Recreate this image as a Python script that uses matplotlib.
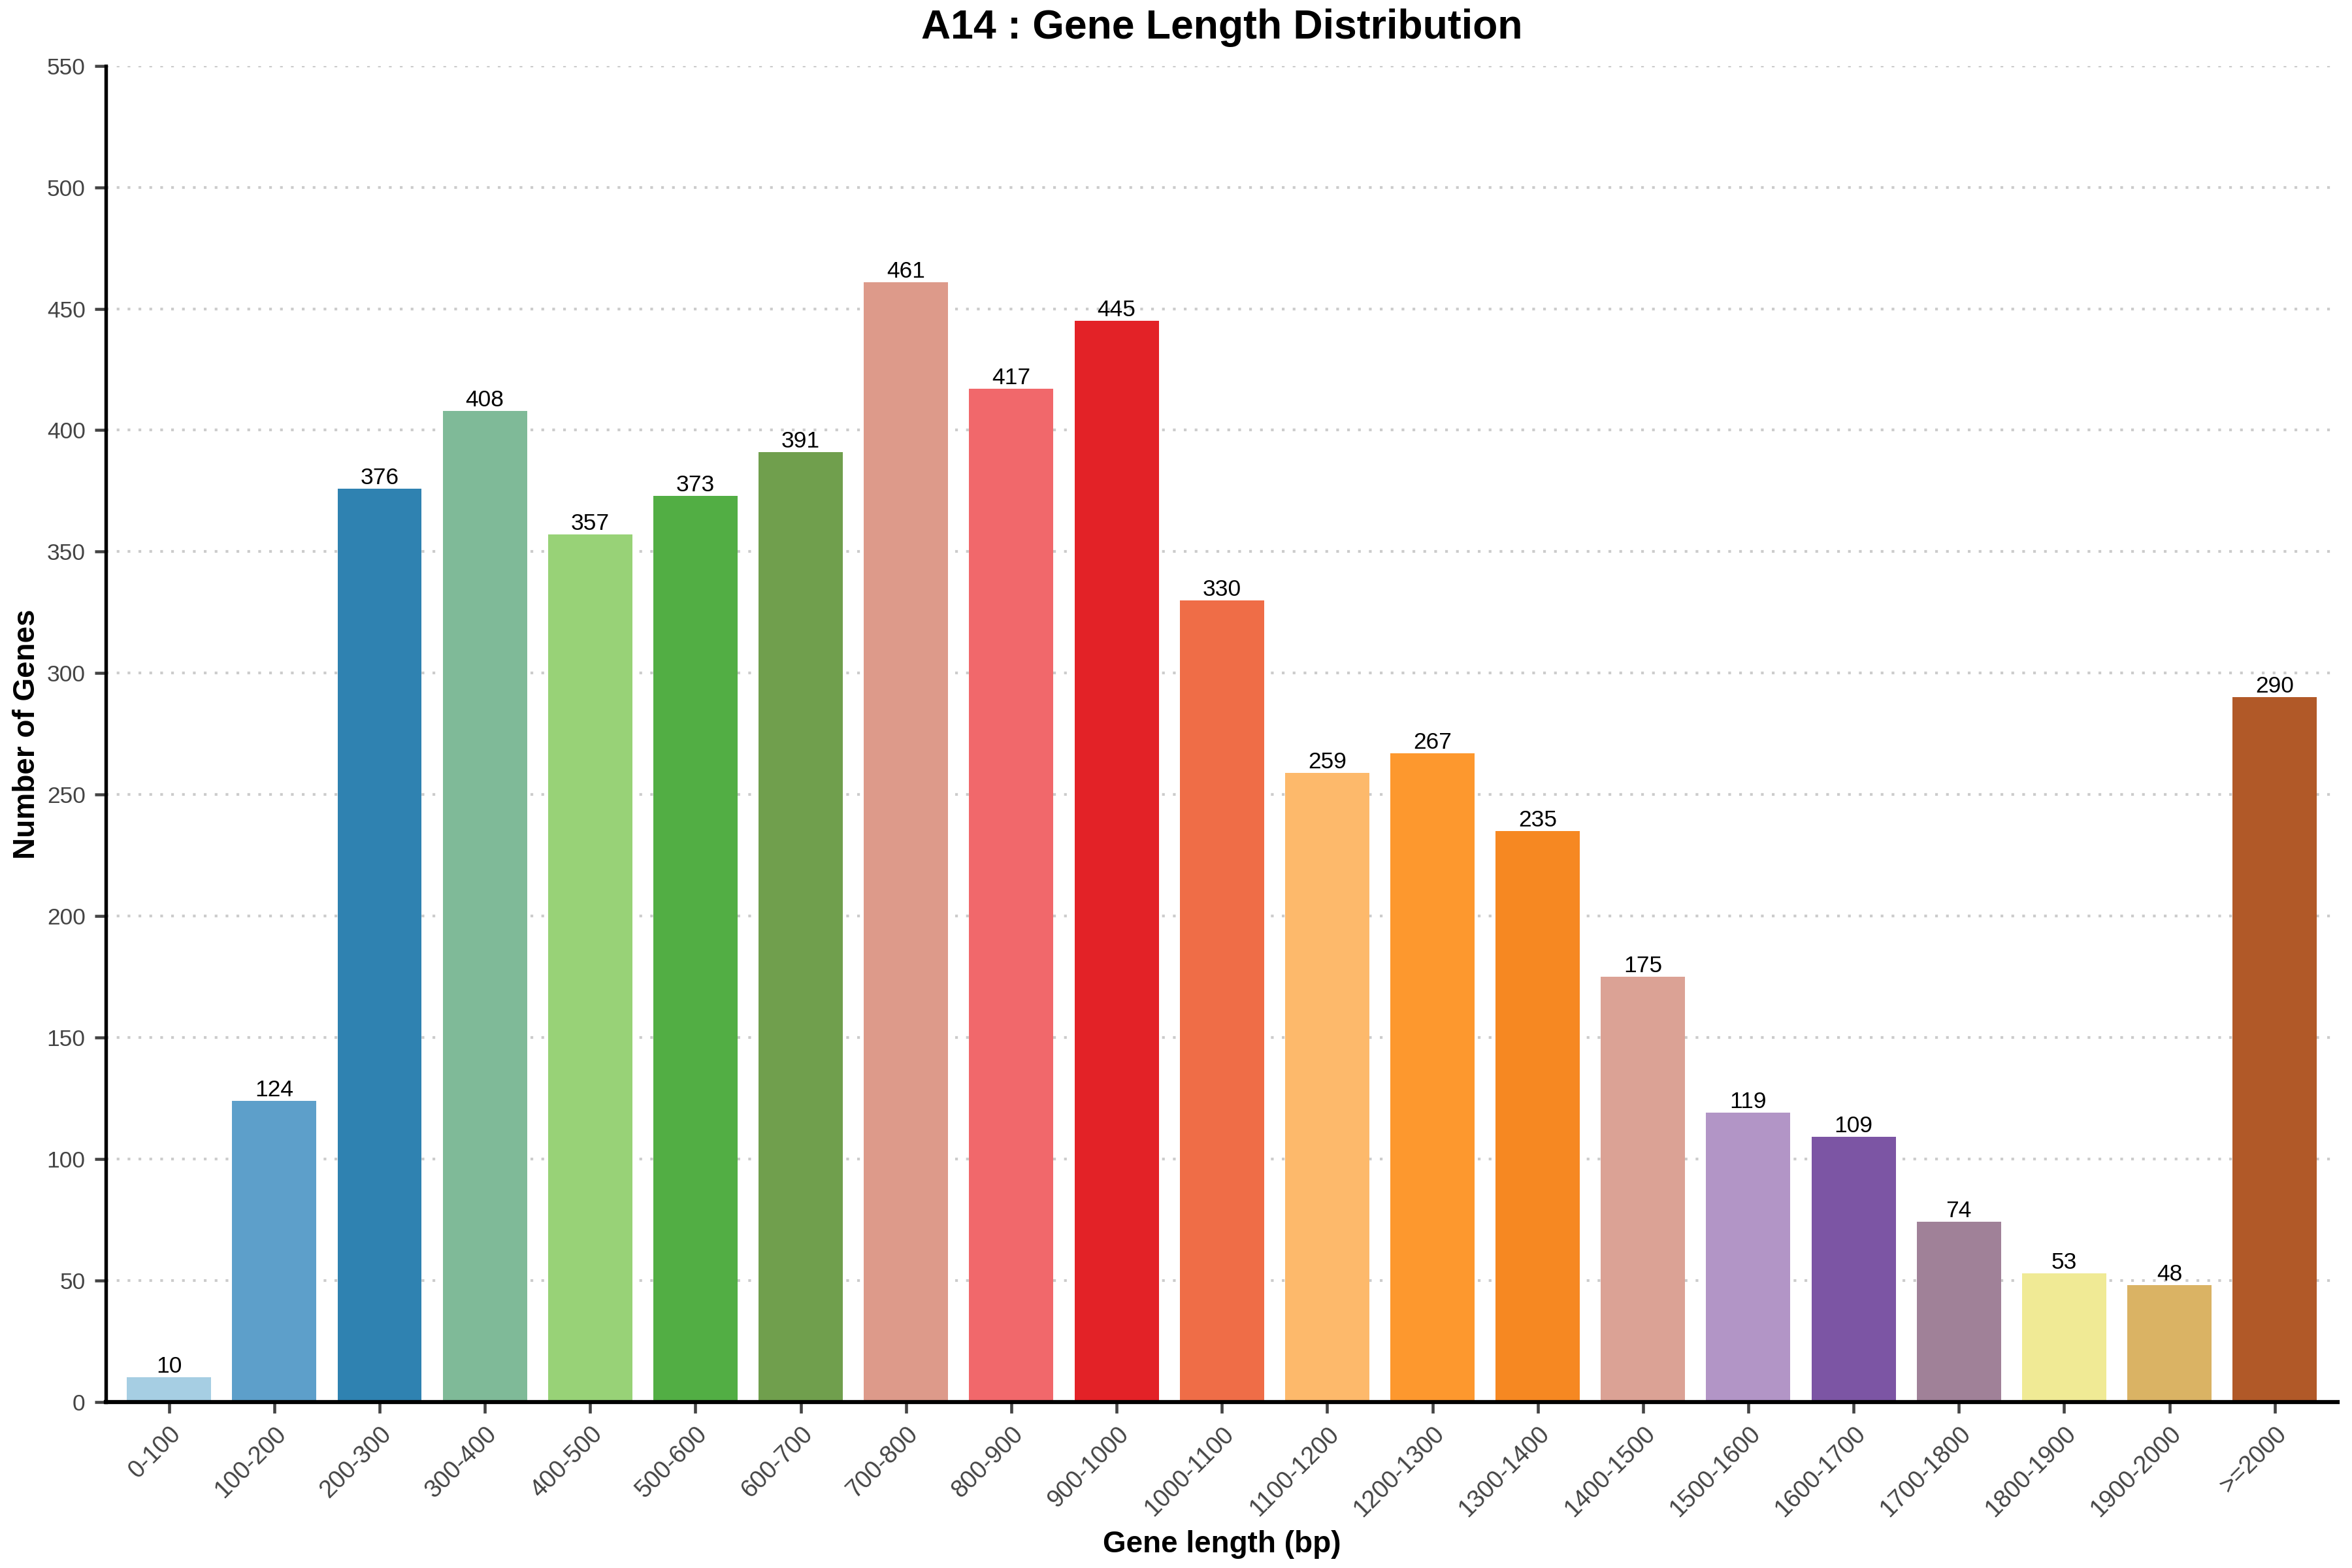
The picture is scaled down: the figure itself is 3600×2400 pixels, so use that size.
import matplotlib
matplotlib.use('Agg')
import matplotlib.pyplot as plt

plt.rcParams['font.family'] = ['Liberation Sans', 'DejaVu Sans']

# Данные: интервалы длины генов и число генов
categories = ['0-100', '100-200', '200-300', '300-400', '400-500', '500-600', '600-700',
              '700-800', '800-900', '900-1000', '1000-1100', '1100-1200', '1200-1300',
              '1300-1400', '1400-1500', '1500-1600', '1600-1700', '1700-1800',
              '1800-1900', '1900-2000', '>=2000']
counts = [10, 124, 376, 408, 357, 373, 391, 461, 417, 445, 330, 259, 267, 235, 175,
          119, 109, 74, 53, 48, 290]
colors = ['#a6cee3', '#5d9fca', '#2f82b1', '#7fba98', '#98d277', '#52ae44', '#709f4d',
          '#dd9a8a', '#f1686b', '#e32227', '#ef6d47', '#fdb96b', '#fd982e', '#f68822',
          '#dba295', '#b295c6', '#7c55a4', '#a08198', '#f0ea95', '#dab364', '#b15928']
y_ticks = list(range(0, 551, 50))

fig, ax = plt.subplots(figsize=(12, 8), dpi=300)
fig.subplots_adjust(left=0.045, right=0.994, top=0.958, bottom=0.106)

bars = ax.bar(categories, counts, color=colors, width=0.8, zorder=2)
for b, v in zip(bars, counts):
    ax.text(b.get_x() + b.get_width() / 2, v, str(v), ha='center', va='bottom',
            fontsize=8.5, color='black', zorder=3)

ax.set_ylim(0, 550)
ax.set_xlim(-0.6, len(categories) - 0.4)
ax.set_yticks(y_ticks)
ax.grid(axis='y', linestyle=(0, (1, 3)), color='#cccccc', linewidth=1, zorder=0)
ax.spines['top'].set_visible(False)
ax.spines['right'].set_visible(False)
ax.spines['left'].set_linewidth(1.3)
ax.spines['bottom'].set_linewidth(1.5)
ax.tick_params(axis='both', colors='#444444', labelsize=8.5, width=1.1, length=4)
ax.tick_params(axis='x', labelsize=9)
for lbl in ax.get_xticklabels():
    lbl.set_rotation(45)
    lbl.set_ha('right')
    lbl.set_rotation_mode('anchor')

ax.set_xlabel('Gene length (bp)', fontsize=11, fontweight='bold', labelpad=3)
ax.set_ylabel('Number of Genes', fontsize=11, fontweight='bold', labelpad=2)
ax.set_title('A14 : Gene Length Distribution', fontsize=15, fontweight='bold', pad=10)

fig.savefig('out.png', dpi=300)
